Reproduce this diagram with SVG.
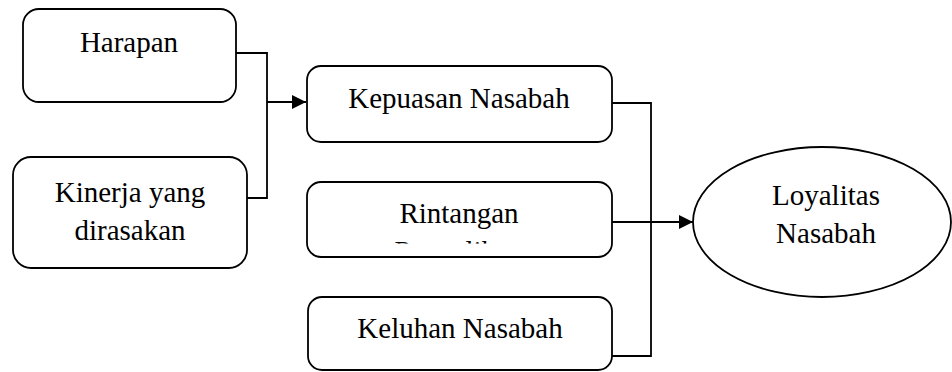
<svg xmlns="http://www.w3.org/2000/svg" width="952" height="372" viewBox="0 0 952 372">
  <style>
    .box { fill: #fff; stroke: #000; stroke-width: 1.8; }
    .lbl { font-family: "Liberation Serif", "Times New Roman", serif; font-size: 29px; fill: #000; text-anchor: middle; }
    .wire { fill: none; stroke: #000; stroke-width: 1.8; }
  </style>
  <defs>
    <marker id="arrow" viewBox="0 0 10 10" refX="10" refY="5" markerWidth="15" markerHeight="14" markerUnits="userSpaceOnUse" orient="auto">
      <path d="M0,0 L10,5 L0,10 z" fill="#000"/>
    </marker>
    <clipPath id="clipRintangan">
      <rect x="307" y="182" width="305" height="61.5"/>
    </clipPath>
  </defs>

  <g id="connectors">
    <path class="wire" d="M236,53 H267 V198 H247"/>
    <path class="wire" d="M267,102 H306" marker-end="url(#arrow)"/>
    <path class="wire" d="M612,103 H651 V356 H612"/>
    <path class="wire" d="M612,222 H693" marker-end="url(#arrow)"/>
  </g>

  <g id="harapan">
    <rect class="box" x="23" y="9" width="213" height="93" rx="16"/>
    <text class="lbl" x="129" y="52">Harapan</text>
  </g>

  <g id="kinerja">
    <rect class="box" x="13" y="157" width="234" height="111" rx="18"/>
    <text class="lbl" x="130" y="202">Kinerja yang</text>
    <text class="lbl" x="130" y="240">dirasakan</text>
  </g>

  <g id="kepuasan">
    <rect class="box" x="307" y="66" width="305" height="76" rx="14"/>
    <text class="lbl" x="459" y="108">Kepuasan Nasabah</text>
  </g>

  <g id="rintangan">
    <rect class="box" x="307" y="182" width="305" height="75" rx="14"/>
    <g clip-path="url(#clipRintangan)">
      <text class="lbl" x="459" y="223">Rintangan</text>
      <text class="lbl" x="459" y="261">Pengalihan</text>
    </g>
  </g>

  <g id="keluhan">
    <rect class="box" x="308" y="297" width="304" height="73" rx="14"/>
    <text class="lbl" x="460" y="338">Keluhan Nasabah</text>
  </g>

  <g id="loyalitas">
    <ellipse class="box" cx="822" cy="222" rx="129" ry="75"/>
    <text class="lbl" x="826" y="205">Loyalitas</text>
    <text class="lbl" x="826" y="243">Nasabah</text>
  </g>
</svg>
